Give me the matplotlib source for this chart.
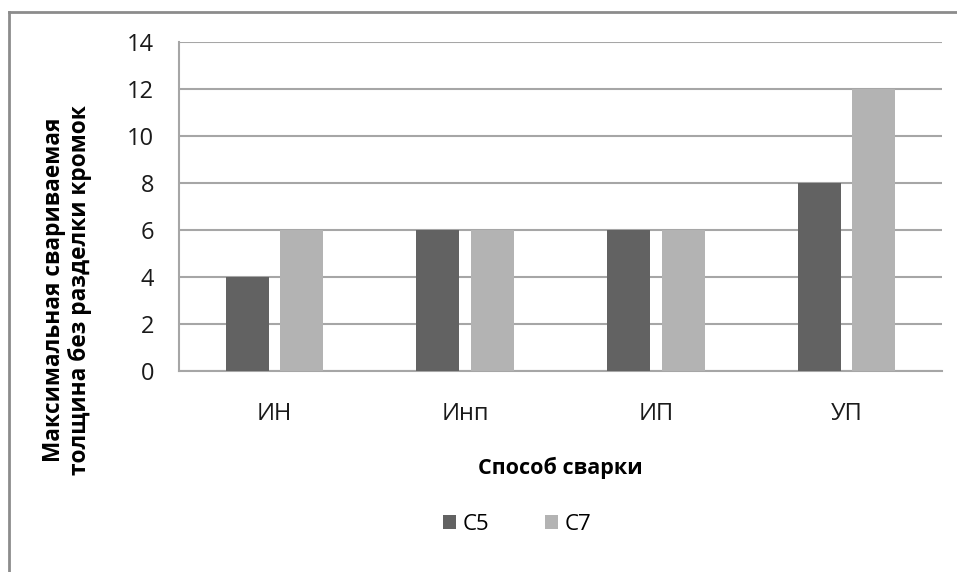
import matplotlib
matplotlib.use("Agg")
import matplotlib.pyplot as plt
from matplotlib.lines import Line2D
from matplotlib.patches import Patch
import numpy as np

plt.rcParams['font.family'] = ['Open Sans', 'DejaVu Sans']

categories = ["ИН", "Инп", "ИП", "УП"]
series_names = ["С5", "С7"]
c5_values = [4, 6, 6, 8]
c7_values = [6, 6, 6, 12]
y_ticks = [0, 2, 4, 6, 8, 10, 12, 14]

colors = ["#626262", "#b3b3b3"]
grid_color = "#a6a6a6"

fig = plt.figure(figsize=(9.57, 5.72), dpi=100)
ax = fig.add_axes([179 / 957, 1 - 371 / 572, (942 - 179) / 957, (371 - 42) / 572])

x = np.arange(len(categories))
offset = 0.143
width = 0.225
ax.bar(x - offset, c5_values, width, color=colors[0], zorder=3)
ax.bar(x + offset, c7_values, width, color=colors[1], zorder=3)

ax.set_xlim(-0.5, len(categories) - 0.5)
ax.set_ylim(0, 14)
ax.set_yticks(y_ticks)
ax.set_xticks(x)
ax.set_xticklabels(categories)
ax.tick_params(axis='both', length=0, labelsize=17, colors="#1a1a1a")
ax.tick_params(axis='y', pad=18)
ax.tick_params(axis='x', pad=22)

ax.yaxis.grid(True, color=grid_color, linewidth=1.5, zorder=0)
for side in ["top", "right"]:
    ax.spines[side].set_visible(False)
for side in ["left", "bottom"]:
    ax.spines[side].set_color(grid_color)
    ax.spines[side].set_linewidth(1.5)

# axis titles
fig.text(560 / 957, 1 - 468 / 572, "Способ сварки", ha="center", va="center",
         fontsize=15.5, fontweight="bold")
fig.text(67 / 957, 1 - 290 / 572, "Максимальная свариваемая\nтолщина без разделки кромок",
         ha="center", va="center", rotation=90, fontsize=16.3, fontweight="bold",
         linespacing=1.15)

# legend
handles = [Patch(facecolor=c, edgecolor="none") for c in colors]
fig.legend(handles, series_names, loc="center", bbox_to_anchor=(517 / 957, 1 - 524 / 572),
           ncol=2, frameon=False, fontsize=16, handlelength=0.6, handleheight=0.6,
           handletextpad=0.3, columnspacing=2.5)

# chart frame
frame_kw = dict(color="#8c8c8c", linewidth=2.0, transform=fig.transFigure)
fig.add_artist(Line2D([9 / 957, 9 / 957], [0, 1 - 12 / 572], **frame_kw))
fig.add_artist(Line2D([9 / 957, 1], [1 - 12 / 572, 1 - 12 / 572], **frame_kw))

fig.savefig("out.png", dpi=100, facecolor="white")
